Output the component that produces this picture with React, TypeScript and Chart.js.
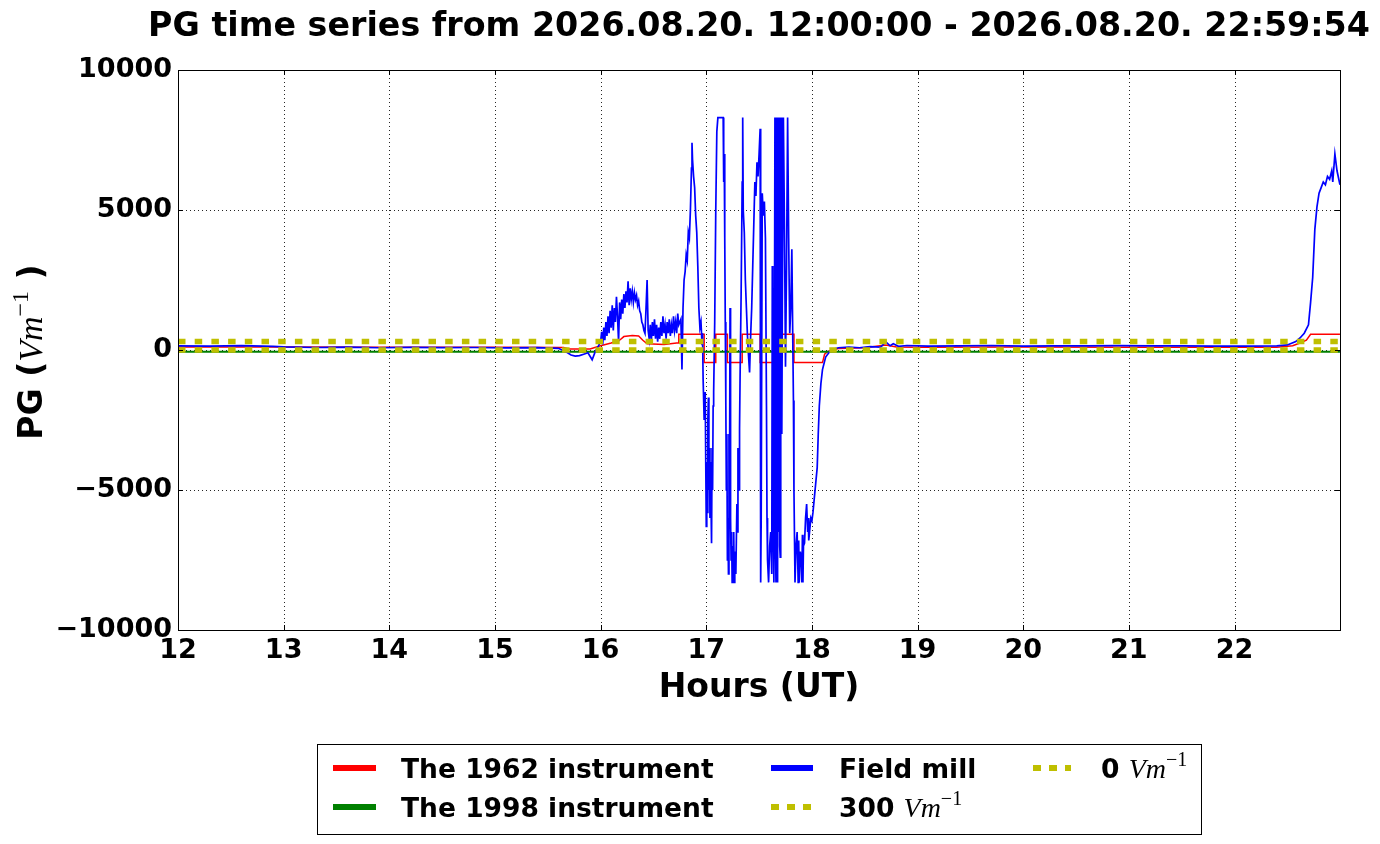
import { useEffect, useRef } from "react"
import { Chart, registerables } from "chart.js"

Chart.register(...registerables)

const TITLE = "PG time series from 2026.08.20. 12:00:00 - 2026.08.20. 22:59:54"
const X_MIN = 12
const X_MAX = 22 + 59 / 60 + 54 / 3600
const X_TICKS = [12, 13, 14, 15, 16, 17, 18, 19, 20, 21, 22]
const Y_TICKS = [-10000, -5000, 0, 5000, 10000]

// Field mill (blue)
const millHours = [
  12.0, 12.3, 12.6, 12.9, 13.0, 13.3, 13.6, 13.9, 14.2, 14.5, 14.8, 15.1, 15.4, 15.6,
  15.68, 15.72, 15.76, 15.8, 15.84, 15.88, 15.92, 15.95, 15.98,
  16.0, 16.01, 16.02, 16.03, 16.04, 16.05, 16.06, 16.07, 16.08, 16.09, 16.1, 16.11, 16.12, 16.13,
  16.14, 16.15, 16.16, 16.17, 16.18, 16.19, 16.2, 16.21, 16.22, 16.23, 16.24, 16.25, 16.26, 16.27,
  16.28, 16.29, 16.3, 16.31, 16.32, 16.33, 16.34, 16.35, 16.36, 16.37, 16.38, 16.39, 16.4, 16.41,
  16.42, 16.43, 16.44, 16.45, 16.46, 16.47, 16.48, 16.49, 16.5, 16.51, 16.52, 16.53, 16.54, 16.55,
  16.56, 16.57, 16.58, 16.59, 16.6, 16.61, 16.62, 16.63, 16.64, 16.65, 16.66, 16.67, 16.68, 16.69,
  16.7, 16.71, 16.72, 16.73, 16.74, 16.76, 16.77, 16.78, 16.79, 16.8, 16.81, 16.82, 16.83, 16.84,
  16.85, 16.86, 16.865, 16.87, 16.88, 16.89, 16.9, 16.91, 16.92, 16.93, 16.94, 16.95, 16.96, 16.965,
  16.97, 16.98, 16.99, 17.0, 17.005, 17.01, 17.015, 17.02, 17.025, 17.03, 17.035, 17.04, 17.05, 17.055,
  17.06, 17.065, 17.07, 17.08, 17.09, 17.1, 17.11, 17.16, 17.165, 17.17, 17.175, 17.18, 17.185, 17.19,
  17.195, 17.2, 17.205, 17.21, 17.215, 17.22, 17.225, 17.23, 17.235, 17.24, 17.245, 17.25, 17.255, 17.26,
  17.265, 17.27, 17.28, 17.29, 17.295, 17.3, 17.31, 17.315, 17.32, 17.33, 17.34, 17.345, 17.35, 17.36,
  17.37, 17.38, 17.39, 17.4, 17.41, 17.42, 17.43, 17.44, 17.45, 17.46, 17.47, 17.48, 17.49, 17.5,
  17.51, 17.515, 17.52, 17.53, 17.54, 17.55, 17.56, 17.57, 17.575, 17.58, 17.59, 17.6, 17.61, 17.62,
  17.625, 17.63, 17.64, 17.65, 17.655, 17.66, 17.665, 17.67, 17.675, 17.68, 17.685, 17.69, 17.695, 17.7,
  17.705, 17.71, 17.715, 17.72, 17.73, 17.74, 17.75, 17.76, 17.77, 17.78, 17.79, 17.8, 17.81, 17.82,
  17.825, 17.83, 17.84, 17.85, 17.86, 17.87, 17.875, 17.88, 17.89, 17.9, 17.905, 17.91, 17.915, 17.92,
  17.93, 17.94, 17.95, 17.96, 17.965, 17.97, 17.98, 17.99, 18.0, 18.01, 18.02, 18.035, 18.05, 18.06,
  18.07, 18.085, 18.1, 18.13, 18.18, 18.25, 18.35, 18.45, 18.55, 18.65, 18.7, 18.74, 18.77, 18.82,
  18.9, 19.1, 19.4, 19.7, 20.0, 20.3, 20.6, 20.9, 21.2, 21.5, 21.8, 22.1, 22.4, 22.5,
  22.58, 22.62, 22.66, 22.7, 22.72, 22.74, 22.76, 22.78, 22.8, 22.82, 22.84, 22.86, 22.88, 22.9,
  22.92, 22.93, 22.95, 22.97, 22.998,
]
const millPG = [
  150, 140, 155, 130, 110, 90, 100, 80, 95, 85, 90, 75, 85, 60,
  -80, -180, -220, -200, -150, -100, -350, -50, 150,
  300, 650, 200, 800, 350, 1000, 500, 1200, 600, 1400, 800, 1600, 700, 1500,
  1000, 1900, 1200, 300, 1700, 1100, 1800, 1300, 2000, 1500, 2100, 1700, 2450, 1600,
  2200, 1800, 2100, 1700, 2050, 1800, 1950, 1600, 1750, 1400, 1300, 1000, 900, 700,
  600, 1500, 2500, 700, 400, 900, 300, 1000, 500, 1100, 400, 900, 300, 800,
  400, 1000, 500, 1200, 600, 900, 400, 1000, 600, 1100, 500, 900, 600, 1200,
  700, 1000, 600, 1300, 900, 1100, -700, 1500, 2500, 2800, 3400, 3200, 4200, 4000,
  5000, 6500, 7400, 6800, 6200, 5800, 4800, 4200, 3000, 1500, 800, 1000, 200, 600,
  -1000, -2500, -1500, -6300, -4000, -5800, -2500, -1700, -5000, -3500, -6000, -4000, -6900, -3500,
  -5000, -2000, -1500, 1000, 5000, 7800, 8300, 8300, 6000, 7000, 4000, 1000, -1800, -5000,
  -3000, -7500, -6000, -8000, -3000, -5000, 1500, -6000, -7500, -6500, -8300, -7000, -8300, -6500,
  -8300, -7200, -8000, -5500, -6500, -3500, -5000, -2800, -1000, 2000, 6000, 8300, 5000, 4200,
  2500, 1500, 500, -200, -800, 500, 1500, 3000, 4500, 6000, 5500, 6700, 6200, 7000,
  7900, -8300, -6000, 5600, 4800, 5300, 4000, -2000, -6000, -7500, -8300, -7000, -6500, -8000,
  3000, -5000, -8300, 8300, -7000, -8300, 8300, -7500, -8300, 8300, -6500, 8300, -7000, -7400,
  6000, 8300, -3000, 1500, 8300, 4500, -600, 3000, 8300, 4000, 600, 1500, 3600, 0,
  -1800, -5000, -8300, -7000, -6500, -8300, -6800, -8300, -7200, -7500, -8300, -6600, -8300, -7000,
  -6900, -6000, -5500, -6500, -6000, -6800, -6400, -6000, -6100, -5800, -5400, -4800, -4200, -3000,
  -2000, -1200, -700, -250, 0, 80, 100, 80, 120, 100, 290, 150, 220, 130,
  160, 140, 150, 160, 140, 150, 145, 155, 150, 145, 140, 140, 150, 180,
  300, 430, 600, 900, 1700, 2600, 4300, 5100, 5600, 5800, 6000, 5900, 6200, 6100,
  6400, 6000, 7000, 6400, 5900,
]

// The 1962 instrument (red)
const oldHours = [
  12.0, 13.0, 14.0, 15.0, 15.65, 15.7, 15.9, 16.0, 16.1, 16.18, 16.22, 16.3, 16.36, 16.4,
  16.44, 16.6, 16.72, 16.74, 16.74, 16.98, 16.98, 17.09, 17.09, 17.2, 17.2, 17.34, 17.34, 17.51,
  17.51, 17.67, 17.67, 17.83, 17.83, 18.1, 18.12, 18.15, 18.25, 18.5, 18.7, 18.8, 19.0, 20.0,
  21.0, 22.0, 22.4, 22.55, 22.62, 22.68, 22.72, 22.998,
]
const oldPG = [
  110, 105, 100, 95, 90, 40, 40, 150, 250, 350, 480, 520, 500, 350,
  220, 200, 250, 250, 560, 560, -450, -450, 560, 560, -450, -450, 560, 560,
  -450, -450, 560, 560, -450, -450, -150, -50, 50, 80, 180, 110, 100, 105,
  100, 95, 100, 150, 250, 350, 560, 560,
]

// The 1998 instrument (green)
const newHours = [12.0, 22.998]
const newPG = [-60, -60]

// reference levels
const refHours = [12.0, 22.998]
const ref300 = [300, 300]
const ref0 = [0, 0]

const SANS = '"DejaVu Sans", sans-serif'
const SERIF = '"Liberation Serif", "DejaVu Serif", serif'
const YELLOW = "#bfbf00"
const DASH = [7.5, 9.2]

type Part = { text: string; font: string; dy?: number }

function partsWidth(ctx: CanvasRenderingContext2D, parts: Part[]) {
  let w = 0
  for (const p of parts) {
    ctx.font = p.font
    w += ctx.measureText(p.text).width
  }
  return w
}

function drawParts(ctx: CanvasRenderingContext2D, parts: Part[], x: number, y: number) {
  let cx = x
  for (const p of parts) {
    ctx.font = p.font
    ctx.fillText(p.text, cx, y + (p.dy || 0))
    cx += ctx.measureText(p.text).width
  }
}

const unitParts = (size: number): Part[] => [
  { text: "Vm", font: `italic ${size}px ${SERIF}` },
  { text: "\u22121", font: `${Math.round(size * 0.7)}px ${SERIF}`, dy: -Math.round(size * 0.42) },
]

const LEG_FONT = `bold 26.5px ${SANS}`
const legendItems: { col: number; row: number; color: string; dashed: boolean; parts: Part[] }[] = [
  { col: 0, row: 0, color: "#ff0000", dashed: false, parts: [{ text: "The 1962 instrument", font: LEG_FONT }] },
  { col: 0, row: 1, color: "#008000", dashed: false, parts: [{ text: "The 1998 instrument", font: LEG_FONT }] },
  { col: 1, row: 0, color: "#0000ff", dashed: false, parts: [{ text: "Field mill", font: LEG_FONT }] },
  { col: 1, row: 1, color: YELLOW, dashed: true, parts: [{ text: "300 ", font: LEG_FONT }, ...unitParts(28)] },
  { col: 2, row: 0, color: YELLOW, dashed: true, parts: [{ text: "0 ", font: LEG_FONT }, ...unitParts(28)] },
]
const legendCols = [
  { x0: 333, x1: 376, tx: 401 },
  { x0: 771, x1: 813, tx: 839 },
  { x0: 1033, x1: 1071, tx: 1101 },
]
const legendRows = [768, 807]

const framePlugin = {
  id: "mplFrame",
  beforeDatasetsDraw(chart: Chart) {
    const { ctx, chartArea: a, scales } = chart
    ctx.save()
    ctx.strokeStyle = "rgba(0,0,0,0.85)"
    ctx.lineWidth = 1
    ctx.setLineDash([1, 3])
    for (const t of X_TICKS) {
      const px = Math.round(scales.x.getPixelForValue(t)) + 0.5
      ctx.beginPath()
      ctx.moveTo(px, a.top)
      ctx.lineTo(px, a.bottom)
      ctx.stroke()
    }
    for (const t of Y_TICKS) {
      const py = Math.round(scales.y.getPixelForValue(t)) + 0.5
      ctx.beginPath()
      ctx.moveTo(a.left, py)
      ctx.lineTo(a.right, py)
      ctx.stroke()
    }
    ctx.restore()
  },
  afterDatasetsDraw(chart: Chart) {
    const { ctx, chartArea: a, scales } = chart
    ctx.save()
    ctx.strokeStyle = "#000"
    ctx.lineWidth = 1
    ctx.setLineDash([])
    ctx.strokeRect(Math.round(a.left) + 0.5, Math.round(a.top) + 0.5, Math.round(a.right - a.left), Math.round(a.bottom - a.top))
    ctx.beginPath()
    for (const t of X_TICKS) {
      const px = Math.round(scales.x.getPixelForValue(t)) + 0.5
      ctx.moveTo(px, a.bottom)
      ctx.lineTo(px, a.bottom - 5)
      ctx.moveTo(px, a.top)
      ctx.lineTo(px, a.top + 5)
    }
    for (const t of Y_TICKS) {
      const py = Math.round(scales.y.getPixelForValue(t)) + 0.5
      ctx.moveTo(a.left, py)
      ctx.lineTo(a.left + 5, py)
      ctx.moveTo(a.right, py)
      ctx.lineTo(a.right - 5, py)
    }
    ctx.stroke()
    ctx.restore()
  },
  afterDraw(chart: Chart) {
    const { ctx, chartArea: a } = chart
    const cx = (a.left + a.right) / 2
    ctx.save()
    ctx.fillStyle = "#000"
    ctx.textBaseline = "alphabetic"

    // title
    ctx.textAlign = "center"
    ctx.font = `bold 33.3px ${SANS}`
    ctx.fillText(TITLE, cx, 36)

    // x label
    ctx.font = `bold 33px ${SANS}`
    ctx.fillText("Hours (UT)", cx, 697)

    // y label
    ctx.textAlign = "left"
    const yParts: Part[] = [
      { text: "PG (", font: `bold 33px ${SANS}` },
      ...unitParts(34),
      { text: " )", font: `bold 33px ${SANS}` },
    ]
    const w = partsWidth(ctx, yParts)
    ctx.save()
    ctx.translate(42, (a.top + a.bottom) / 2 + 2)
    ctx.rotate(-Math.PI / 2)
    drawParts(ctx, yParts, -w / 2, 0)
    ctx.restore()

    // legend
    ctx.strokeStyle = "#000"
    ctx.lineWidth = 1
    ctx.strokeRect(317.5, 744.5, 884, 90)
    for (const item of legendItems) {
      const col = legendCols[item.col]
      const y = legendRows[item.row]
      ctx.save()
      ctx.strokeStyle = item.color
      ctx.lineWidth = 6
      ctx.lineCap = "butt"
      ctx.setLineDash(item.dashed ? [8, 8] : [])
      ctx.beginPath()
      ctx.moveTo(col.x0, y)
      ctx.lineTo(col.x1, y)
      ctx.stroke()
      ctx.restore()
      drawParts(ctx, item.parts, col.tx, y + 10)
    }
    ctx.restore()
  },
}

const pts = (xs: number[], ys: number[]) => xs.map((x, i) => ({ x, y: ys[i] }))

export default function App() {
  const chartRef = useRef<HTMLCanvasElement>(null)
  const chartInstance = useRef<Chart | null>(null)

  useEffect(() => {
    if (!chartRef.current) return
    if (chartInstance.current) chartInstance.current.destroy()
    const ctx = chartRef.current.getContext("2d")
    if (!ctx) return

    Chart.defaults.font.family = SANS
    Chart.defaults.color = "#000"

    const common = { pointRadius: 0, tension: 0, fill: false }

    chartInstance.current = new Chart(ctx, {
      type: "line",
      data: {
        datasets: [
          { ...common, label: "The 1962 instrument", data: pts(oldHours, oldPG), borderColor: "#ff0000", borderWidth: 1.5, order: 5 },
          { ...common, label: "The 1998 instrument", data: pts(newHours, newPG), borderColor: "#008000", borderWidth: 2, order: 4 },
          { ...common, label: "Field mill", data: pts(millHours, millPG), borderColor: "#0000ff", borderWidth: 1.7, order: 3 },
          { ...common, label: "300 Vm-1", data: pts(refHours, ref300), borderColor: YELLOW, borderWidth: 5.5, borderDash: DASH, borderCapStyle: "butt", order: 2 },
          { ...common, label: "0 Vm-1", data: pts(refHours, ref0), borderColor: YELLOW, borderWidth: 5.5, borderDash: DASH, borderCapStyle: "butt", order: 1 },
        ],
      },
      options: {
        responsive: false,
        maintainAspectRatio: false,
        animation: false,
        events: [],
        layout: { padding: { top: 70, right: 40, bottom: 0, left: 0 } },
        plugins: {
          legend: { display: false },
          title: { display: false },
          tooltip: { enabled: false },
        },
        scales: {
          x: {
            type: "linear",
            min: X_MIN,
            max: X_MAX,
            grid: { display: false, drawTicks: false },
            border: { display: false },
            afterFit: (s: any) => {
              s.height = 214
            },
            ticks: {
              stepSize: 1,
              includeBounds: false,
              autoSkip: false,
              maxRotation: 0,
              padding: 5,
              color: "#000",
              font: { size: 27, weight: "bold", family: SANS },
              callback: (v: any) => String(v).replace("-", "\u2212"),
            },
          },
          y: {
            type: "linear",
            min: -10000,
            max: 10000,
            grid: { display: false, drawTicks: false },
            border: { display: false },
            afterFit: (s: any) => {
              s.width = 178
            },
            ticks: {
              stepSize: 5000,
              padding: 6,
              color: "#000",
              font: { size: 27, weight: "bold", family: SANS },
              callback: (v: any) => String(v).replace("-", "\u2212"),
            },
          },
        },
      },
      plugins: [framePlugin],
    } as any)

    return () => {
      if (chartInstance.current) {
        chartInstance.current.destroy()
        chartInstance.current = null
      }
    }
  }, [])

  return (
    <div style={{ position: "absolute", left: 0, top: 0, width: 1380, height: 844, background: "#fff" }}>
      <canvas ref={chartRef} width={1380} height={844} style={{ width: 1380, height: 844, display: "block" }} />
    </div>
  )
}
